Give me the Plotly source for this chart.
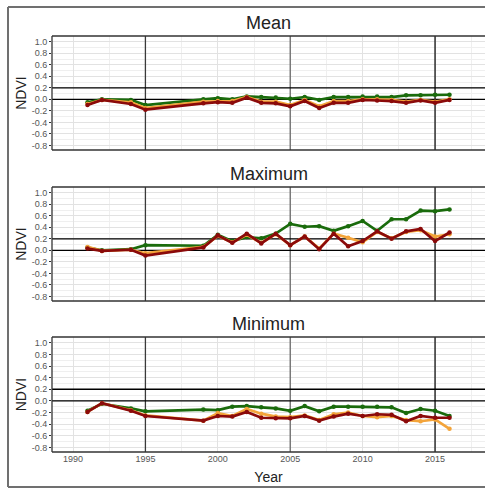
import plotly.graph_objects as go

years = [1991, 1992, 1994, 1995, 1999, 2000, 2001, 2002, 2003, 2004, 2005, 2006,
         2007, 2008, 2009, 2010, 2011, 2012, 2013, 2014, 2015, 2016]

mean_green = [-0.05, 0.0, -0.01, -0.10, 0.0, 0.02, 0.0, 0.05, 0.04, 0.03, 0.01, 0.04,
              -0.01, 0.04, 0.04, 0.05, 0.05, 0.04, 0.07, 0.07, 0.08, 0.08]
mean_orange = [-0.08, -0.01, -0.05, -0.15, -0.04, -0.03, -0.03, 0.04, -0.04, -0.04, -0.10, -0.01,
               -0.12, -0.03, -0.03, 0.0, 0.0, -0.01, -0.04, -0.01, -0.04, 0.0]
mean_red = [-0.10, -0.01, -0.08, -0.18, -0.07, -0.05, -0.06, 0.03, -0.06, -0.07, -0.12, -0.03,
            -0.15, -0.06, -0.06, -0.01, -0.02, -0.03, -0.06, -0.02, -0.06, -0.01]

max_green = [0.05, 0.0, 0.02, 0.09, 0.08, 0.27, 0.16, 0.23, 0.21, 0.29, 0.46, 0.41,
             0.42, 0.34, 0.42, 0.51, 0.34, 0.54, 0.54, 0.69, 0.68, 0.71]
max_orange = [0.06, -0.01, 0.01, -0.05, 0.06, 0.25, 0.14, 0.27, 0.13, 0.28, 0.09, 0.24,
              0.03, 0.29, 0.22, 0.14, 0.32, 0.21, 0.32, 0.35, 0.24, 0.28]
max_red = [0.03, -0.01, 0.01, -0.09, 0.05, 0.26, 0.13, 0.29, 0.12, 0.29, 0.09, 0.24,
           0.02, 0.29, 0.07, 0.16, 0.33, 0.20, 0.33, 0.37, 0.16, 0.31]

min_green = [-0.17, -0.05, -0.13, -0.18, -0.15, -0.16, -0.10, -0.09, -0.11, -0.13, -0.17, -0.09,
             -0.18, -0.10, -0.10, -0.10, -0.10, -0.11, -0.21, -0.14, -0.17, -0.26]
min_orange = [-0.19, -0.04, -0.16, -0.25, -0.34, -0.21, -0.26, -0.14, -0.22, -0.27, -0.28, -0.25,
              -0.33, -0.23, -0.20, -0.26, -0.28, -0.26, -0.33, -0.35, -0.32, -0.48]
min_red = [-0.19, -0.04, -0.17, -0.26, -0.34, -0.26, -0.27, -0.19, -0.29, -0.30, -0.30, -0.26,
           -0.34, -0.27, -0.22, -0.26, -0.23, -0.24, -0.35, -0.26, -0.29, -0.29]

panels = [
    ("Mean", mean_green, mean_orange, mean_red),
    ("Maximum", max_green, max_orange, max_red),
    ("Minimum", min_green, min_orange, min_red),
]
series_colors = ["#1a6b0c", "#f3a43a", "#8b0a0a"]

y_ticks = [-0.8, -0.6, -0.4, -0.2, 0.0, 0.2, 0.4, 0.6, 0.8, 1.0]
y_ticktext = ["-0.8", "-0.6", "-0.4", "-0.2", "0.0", "0.2", "0.4", "0.6", "0.8", "1.0"]
x_ticks = [1990, 1995, 2000, 2005, 2010, 2015]
vlines = [(1995, "#3a3a3a"), (2005, "#6a6a6a"), (2015, "#111111")]
hlines = [0.0, 0.2]

FONT = "Liberation Sans, Arial, sans-serif"
X_RANGE = [1988.55, 2018.45]
Y_RANGE = [-0.88, 1.1]
H = 489
top_px, bot_px = 36, 452
plot_h = bot_px - top_px
panel_px = [(36, 150), (187, 301), (337, 452)]

def py(p):
    return (bot_px - p) / plot_h

fig = go.Figure()
shapes = []
annotations = []
layout_axes = {}

for i, (title, g, o, r) in enumerate(panels):
    idx = i + 1
    xa = "x" if idx == 1 else f"x{idx}"
    ya = "y" if idx == 1 else f"y{idx}"
    # reference lines (drawn under the data)
    for xv, col in vlines:
        fig.add_trace(go.Scatter(x=[xv, xv], y=Y_RANGE, mode="lines", xaxis=xa, yaxis=ya,
                                 line=dict(color=col, width=1.3), showlegend=False,
                                 hoverinfo="skip"))
    for hv in hlines:
        fig.add_trace(go.Scatter(x=X_RANGE, y=[hv, hv], mode="lines", xaxis=xa, yaxis=ya,
                                 line=dict(color="#000000", width=1.3), showlegend=False,
                                 hoverinfo="skip"))
    for vals, col in zip((g, o, r), series_colors):
        fig.add_trace(go.Scatter(
            x=years, y=vals, mode="lines+markers", xaxis=xa, yaxis=ya,
            line=dict(color=col, width=2.7), marker=dict(color=col, size=4.5),
            showlegend=False, hoverinfo="skip"))
    t, b = panel_px[i]
    dom = [py(b), py(t)]
    xkey = "xaxis" if idx == 1 else f"xaxis{idx}"
    ykey = "yaxis" if idx == 1 else f"yaxis{idx}"
    layout_axes[xkey] = dict(
        domain=[0, 1], anchor=ya, range=X_RANGE,
        tickvals=x_ticks, showticklabels=(idx == 3),
        tickfont=dict(size=9, color="#555555", family=FONT),
        showgrid=True, gridcolor="#e2e2e2", gridwidth=1,
        minor=dict(dtick=2.5, tick0=1990, showgrid=True, gridcolor="#efefef", gridwidth=1),
        zeroline=False, showline=False, ticks="",
        title=dict(text="Year" if idx == 3 else "", font=dict(size=14, color="#222222", family=FONT), standoff=9),
    )
    layout_axes[ykey] = dict(
        domain=dom, anchor=xa, range=Y_RANGE,
        tickvals=y_ticks, ticktext=y_ticktext,
        tickfont=dict(size=9, color="#555555", family=FONT),
        showgrid=True, gridcolor="#e2e2e2", gridwidth=1,
        minor=dict(dtick=0.1, tick0=0, showgrid=True, gridcolor="#efefef", gridwidth=1),
        zeroline=False, showline=False, ticks="outside", ticklen=2, tickcolor="#333333",
        title=dict(text="NDVI", font=dict(size=14, color="#222222", family=FONT), standoff=1),
    )
    # panel border: top, left, bottom
    for (x0, y0, x1, y1) in [(0, 1, 1, 1), (0, 0, 0, 1), (0, 0, 1, 0)]:
        shapes.append(dict(type="line", xref=f"{xa} domain", yref=f"{ya} domain",
                           x0=x0, x1=x1, y0=y0, y1=y1,
                           line=dict(color="#333333", width=1.3), layer="above"))
    annotations.append(dict(text=title, xref="paper", yref="paper", x=0.5, y=py(t - 13),
                            xanchor="center", yanchor="middle", showarrow=False,
                            font=dict(size=18, color="#222222", family=FONT)))

# outer frame: top, left, bottom
fx0 = (8 - 52) / 433
for (x0, y0, x1, y1) in [(fx0, py(7), 1.0, py(7)), (fx0, py(487), fx0, py(7)), (fx0, py(487), 1.0, py(487))]:
    shapes.append(dict(type="line", xref="paper", yref="paper",
                       x0=x0, x1=x1, y0=y0, y1=y1, line=dict(color="#707070", width=2)))

fig.update_layout(
    width=485, height=H,
    margin=dict(l=52, r=0, t=top_px, b=H - bot_px),
    paper_bgcolor="white", plot_bgcolor="white",
    shapes=shapes, annotations=annotations,
    font=dict(family=FONT),
    **layout_axes,
)
fig.write_html("out.html")
